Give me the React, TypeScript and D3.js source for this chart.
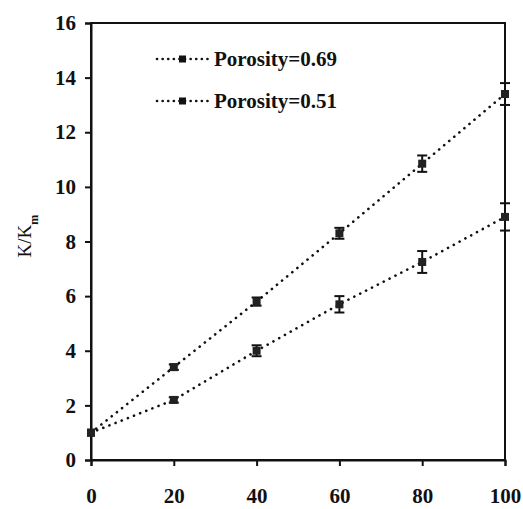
import React, { useEffect, useRef } from 'react';
import * as d3 from 'd3';

// porosity volume fraction (%) on x
const xValues = [0, 20, 40, 60, 80, 100];
const porosity069 = [1.0, 3.4, 5.8, 8.3, 10.85, 13.4];
const porosity069Err = [0.05, 0.1, 0.15, 0.2, 0.3, 0.4];
const porosity051 = [1.0, 2.2, 4.0, 5.7, 7.25, 8.9];
const porosity051Err = [0.05, 0.1, 0.2, 0.3, 0.4, 0.5];
const xTicks = [0, 20, 40, 60, 80, 100];
const yTicks = [0, 2, 4, 6, 8, 10, 12, 14, 16];
const legendLabels = ['Porosity=0.69', 'Porosity=0.51'];

const W = 523;
const H = 509;
const margin = { top: 23, right: 18, bottom: 49, left: 91 };

const App = () => {
  const ref = useRef<SVGSVGElement>(null);

  useEffect(() => {
    const svg = d3.select(ref.current);
    svg.selectAll('*').remove();
    const width = W - margin.left - margin.right;
    const height = H - margin.top - margin.bottom;
    const g = svg.append('g').attr('transform', 'translate(' + margin.left + ',' + margin.top + ')');

    const x = d3.scaleLinear().domain([0, 100]).range([0, width]);
    const y = d3.scaleLinear().domain([0, 16]).range([height, 0]);

    const font = '"Liberation Serif", "Times New Roman", serif';

    // frame
    g.append('rect')
      .attr('width', width).attr('height', height)
      .attr('fill', 'none').attr('stroke', '#111').attr('stroke-width', 2);

    const xAxis = g.append('g')
      .attr('transform', 'translate(0,' + height + ')')
      .call(d3.axisBottom(x).tickValues(xTicks).tickSize(6).tickPadding(22).tickFormat(d3.format('d')));
    const yAxis = g.append('g')
      .call(d3.axisLeft(y).tickValues(yTicks).tickSize(6).tickPadding(9).tickFormat(d3.format('d')));

    [xAxis, yAxis].forEach(a => {
      a.select('.domain').attr('stroke', '#111').attr('stroke-width', 2);
      a.selectAll('.tick line').attr('stroke', '#111').attr('stroke-width', 2);
      a.selectAll('.tick text')
        .attr('fill', '#111')
        .style('font-family', font)
        .style('font-weight', 'bold')
        .style('font-size', '21px');
    });

    // y label
    const yl = svg.append('text')
      .attr('transform', 'translate(31,' + (margin.top + y(8.2)) + ') rotate(-90)')
      .attr('text-anchor', 'middle')
      .style('font-family', font)
      .style('font-size', '19px')
      .attr('fill', '#111');
    yl.append('tspan').text('K/K');
    yl.append('tspan').attr('baseline-shift', 'sub').style('font-size', '12px').style('font-weight', 'bold').text('m');

    const line = d3.line<number>()
      .x((d, i) => x(xValues[i]))
      .y(d => y(d));

    const series = [
      { vals: porosity069, err: porosity069Err },
      { vals: porosity051, err: porosity051Err },
    ];

    series.forEach(s => {
      g.append('path')
        .datum(s.vals)
        .attr('d', line)
        .attr('fill', 'none')
        .attr('stroke', '#111')
        .attr('stroke-width', 2.6)
        .attr('stroke-linecap', 'round')
        .attr('stroke-dasharray', '0.1,6.5');

      const pts = g.append('g');
      s.vals.forEach((v, i) => {
        const cx = x(xValues[i]);
        const e = s.err[i];
        if (e > 0.08) {
          pts.append('line')
            .attr('x1', cx).attr('x2', cx)
            .attr('y1', y(v - e)).attr('y2', y(v + e))
            .attr('stroke', '#111').attr('stroke-width', 2);
          [v - e, v + e].forEach(c => {
            pts.append('line')
              .attr('x1', cx - 5).attr('x2', cx + 5)
              .attr('y1', y(c)).attr('y2', y(c))
              .attr('stroke', '#111').attr('stroke-width', 2);
          });
        }
        pts.append('rect')
          .attr('x', cx - 4).attr('y', y(v) - 4)
          .attr('width', 8).attr('height', 8)
          .attr('fill', '#222');
      });
    });

    // legend
    const legY = [59, 101];
    legendLabels.forEach((lab, i) => {
      const ly = legY[i];
      const lg = svg.append('g');
      lg.append('line')
        .attr('x1', 157).attr('x2', 210)
        .attr('y1', ly).attr('y2', ly)
        .attr('stroke', '#111').attr('stroke-width', 2.6)
        .attr('stroke-linecap', 'round').attr('stroke-dasharray', '0.1,5.5');
      lg.append('rect')
        .attr('x', 179).attr('y', ly - 3.5)
        .attr('width', 7).attr('height', 7)
        .attr('fill', '#111');
      lg.append('text')
        .attr('x', 214).attr('y', ly + 7)
        .style('font-family', font)
        .style('font-weight', 'bold')
        .style('font-size', '21px')
        .attr('fill', '#111')
        .text(lab);
    });
  }, []);

  return (
    <svg ref={ref} width={W} height={H}
      style={{ position: 'absolute', left: 0, top: 0, background: '#fff' }} />
  );
};

export default App;
